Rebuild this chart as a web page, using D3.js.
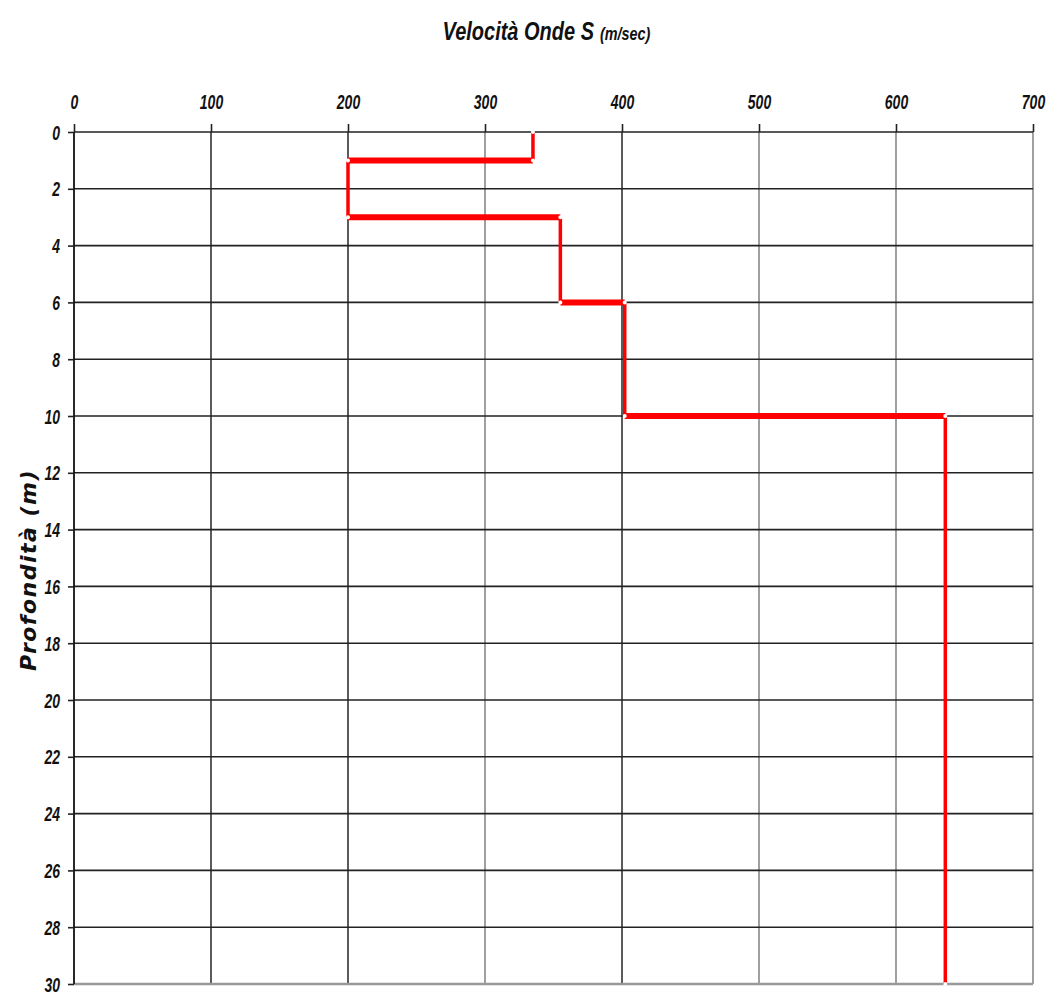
<!DOCTYPE html>
<html>
<head>
<meta charset="utf-8">
<script src="https://cdn.jsdelivr.net/npm/d3@7"></script>
<style>
  html, body { margin: 0; padding: 0; background: #fff; }
  svg { display: block; }
  .tick-label { font-family: "Liberation Sans Narrow", "Arial Narrow", "Liberation Sans", sans-serif; font-style: italic; font-weight: bold; font-size: 20px; fill: #111; }
  .title { font-family: "Liberation Sans Narrow", "Arial Narrow", "Liberation Sans", sans-serif; font-style: italic; font-weight: bold; fill: #111; }
</style>
</head>
<body>
<svg id="chart" width="1053" height="996"></svg>
<script>
// Shear-wave velocity profile: each layer has a top depth, bottom depth and Vs
const layerTop = [0, 1, 3, 6, 10];
const layerBottom = [1, 3, 6, 10, 30];
const layerVs = [335, 200, 355, 402, 636];

const xTicks = [0, 100, 200, 300, 400, 500, 600, 700];
const yTicks = [0, 2, 4, 6, 8, 10, 12, 14, 16, 18, 20, 22, 24, 26, 28, 30];

const svg = d3.select("#chart");
const margin = { left: 74, right: 20, top: 132, bottom: 12 };

const x = d3.scaleLinear().domain([0, 700]).range([margin.left, 1033]);
const y = d3.scaleLinear().domain([0, 30]).range([margin.top, 984]);

// Condensed text: place at (tx, ty) and squeeze horizontally
function squeeze(sel, tx, ty, factor) {
  sel.attr("x", 0).attr("y", 0)
     .attr("transform", `translate(${tx},${ty}) scale(${factor},1)`);
}

// Vertical grid lines
svg.append("g").selectAll("line").data(xTicks.slice(1)).join("line")
  .attr("x1", d => x(d)).attr("x2", d => x(d))
  .attr("y1", y(0)).attr("y2", y(30))
  .attr("stroke", d => (d === 100 || d === 200 || d === 400) ? "#333" : "#888")
  .attr("stroke-width", 1.6);

// Horizontal grid lines
svg.append("g").selectAll("line").data(yTicks).join("line")
  .attr("x1", x(0)).attr("x2", x(700))
  .attr("y1", d => y(d)).attr("y2", d => y(d))
  .attr("stroke", d => d === 30 ? "#999" : "#222")
  .attr("stroke-width", d => d === 30 ? 2.5 : 1.6);

// Top axis
const topAxis = d3.axisTop(x).tickValues(xTicks).tickSize(8).tickFormat(d3.format("d"));
const gTop = svg.append("g").attr("transform", `translate(0,${y(0)})`).call(topAxis);
gTop.select(".domain").remove();
gTop.selectAll(".tick line").attr("stroke", "#222").attr("stroke-width", 1.6);
const topText = gTop.selectAll(".tick text").attr("class", "tick-label").attr("dy", 0);
squeeze(topText, 0, -23, 0.7);

// Left axis
const leftAxis = d3.axisLeft(y).tickValues(yTicks).tickSize(6).tickFormat(d3.format("d"));
const gLeft = svg.append("g").attr("transform", `translate(${x(0)},0)`).call(leftAxis);
gLeft.select(".domain").attr("stroke", "#111").attr("stroke-width", 1.8).attr("d", `M0,${y(0)}V${y(30)}`);
gLeft.selectAll(".tick line").attr("stroke", "#222").attr("stroke-width", 1.6);
const leftText = gLeft.selectAll(".tick text").attr("class", "tick-label").attr("dy", "0.35em");
squeeze(leftText, -14, 0, 0.7);

// Step profile: horizontal segments at layer boundaries, verticals within layers
const steps = [];
layerVs.forEach((v, i) => {
  steps.push({ x1: v, y1: layerTop[i], x2: v, y2: layerBottom[i], vert: true });
  if (i < layerVs.length - 1) {
    steps.push({ x1: v, y1: layerBottom[i], x2: layerVs[i + 1], y2: layerBottom[i], vert: false });
  }
});
svg.append("g").selectAll("line").data(steps).join("line")
  .attr("x1", d => x(d.x1)).attr("x2", d => x(d.x2))
  .attr("y1", d => y(d.y1)).attr("y2", d => y(d.y2))
  .attr("stroke", "#ff0000")
  .attr("stroke-width", d => d.vert ? 3.5 : 6);

// Small white vertex markers
const vertices = [];
layerVs.forEach((v, i) => {
  vertices.push([v, layerTop[i]]);
  vertices.push([v, layerBottom[i]]);
});
svg.append("g").selectAll("circle").data(vertices).join("circle")
  .attr("cx", d => x(d[0])).attr("cy", d => y(d[1])).attr("r", 2)
  .attr("fill", "#fff");

// Title, with the unit in a smaller size
const titleMain = svg.append("text").attr("class", "title")
  .attr("text-anchor", "end").style("font-size", "25px").text("Velocità Onde S");
squeeze(titleMain, 594, 40, 0.8);
const titleUnit = svg.append("text").attr("class", "title")
  .attr("text-anchor", "start").style("font-size", "18px").text("(m/sec)");
squeeze(titleUnit, 600, 40, 0.8);

// Y-axis label
svg.append("text")
  .attr("transform", `translate(36,${(y(0) + y(30)) / 2 + 12}) rotate(-90)`)
  .attr("text-anchor", "middle")
  .style("font-family", '"DejaVu Sans", "Liberation Sans", sans-serif')
  .style("font-style", "italic").style("font-weight", "bold").style("font-size", "22px")
  .style("letter-spacing", "1.5px")
  .attr("fill", "#111")
  .text("Profondità (m)");
</script>
</body>
</html>
